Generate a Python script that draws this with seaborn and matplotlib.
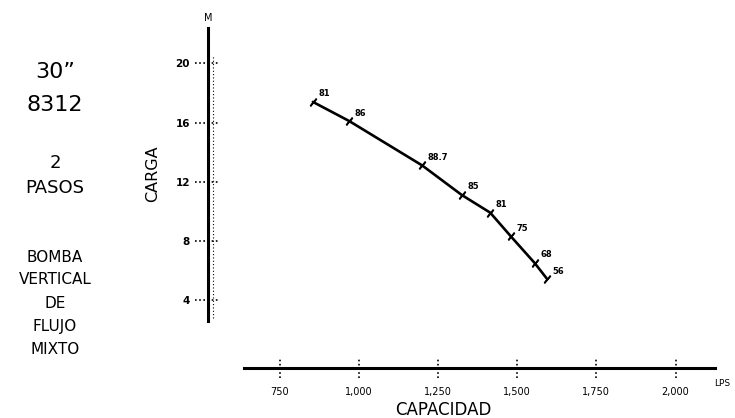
import seaborn as sns
import matplotlib.pyplot as plt

# pump curve
capacidad = [855, 970, 1200, 1325, 1415, 1480, 1555, 1595]   # LPS
carga = [17.4, 16.1, 13.1, 11.1, 9.9, 8.3, 6.5, 5.4]          # M
eficiencia = ["81", "86", "88.7", "85", "81", "75", "68", "56"]

x_ticks = [750, 1000, 1250, 1500, 1750, 2000]
x_labels = ["750", "1,000", "1,250", "1,500", "1,750", "2,000"]
y_ticks = [4, 8, 12, 16, 20]
y_labels = ["4", "8", "12", "16", "20"]

sns.set_theme(style="white")
plt.rcParams["font.family"] = ["DejaVu Sans"]
plt.rcParams["text.color"] = "black"
plt.rcParams["axes.labelcolor"] = "black"
plt.rcParams["xtick.color"] = "black"
plt.rcParams["ytick.color"] = "black"

fig = plt.figure(figsize=(7.35, 4.18), dpi=100)
ax = fig.add_axes([0.283, 0.12, 0.69, 0.813])

sns.lineplot(x=capacidad, y=carga, sort=False, color="black", linewidth=1.9,
             marker=(2, 2, -40), markersize=7, markeredgewidth=1.2,
             markeredgecolor="black", ax=ax)

for q, h, e in zip(capacidad, carga, eficiencia):
    ax.annotate(e, (q, h), xytext=(4, 4), textcoords="offset points",
                fontsize=6, fontweight="bold")

ax.set_xlim(524, 2125)
ax.set_ylim(-0.6, 22.4)

# detached axes like the hand drawn chart
for s in ["top", "right"]:
    ax.spines[s].set_visible(False)
ax.spines["left"].set_bounds(2.6, 22.4)
ax.spines["left"].set_linewidth(2.2)
ax.spines["bottom"].set_bounds(637, 2125)
ax.spines["bottom"].set_linewidth(2.2)
ax.spines["left"].set_color("black")
ax.spines["bottom"].set_color("black")

ax.set_xticks(x_ticks)
ax.set_xticklabels(x_labels, fontsize=7)
ax.set_yticks(y_ticks)
ax.set_yticklabels(y_labels, fontsize=7.5, fontweight="bold")
ax.tick_params(axis="x", length=0, pad=14)
ax.tick_params(axis="y", length=0, pad=13)

# dotted tick marks
ax.vlines(x_ticks, -0.03, 0.03, transform=ax.get_xaxis_transform(),
          colors="black", linestyles=(0, (1, 1.5)), linewidth=1.2, clip_on=False)
ax.hlines(y_ticks, -0.025, 0.02, transform=ax.get_yaxis_transform(),
          colors="black", linestyles=(0, (1, 1.5)), linewidth=1.2, clip_on=False)
ax.vlines(0.01, 2.8, 20.5, transform=ax.get_yaxis_transform(),
          colors="black", linestyles=(0, (1, 2)), linewidth=0.8)

ax.text(0.0, 1.03, "M", transform=ax.transAxes, fontsize=7, ha="center", va="center")
ax.text(1.014, -0.045, "LPS", transform=ax.transAxes, fontsize=6.5, ha="center", va="center")
ax.set_xlabel("CAPACIDAD", fontsize=12, va="center")
ax.xaxis.set_label_coords(0.463, -0.124)
ax.set_ylabel("CARGA", fontsize=11.5, va="center")
ax.yaxis.set_label_coords(-0.11, 0.57)

# left side description
side = [("30\u201d", 72, 16), ("8312", 105, 16), ("2", 163, 13), ("PASOS", 188, 13),
        ("BOMBA", 258, 11), ("VERTICAL", 280, 11), ("DE", 303, 11),
        ("FLUJO", 326, 11), ("MIXTO", 349, 11)]
for t, ypix, fs in side:
    fig.text(55 / 735, 1 - ypix / 418, t, fontsize=fs, ha="center", va="center")

plt.savefig("out.png", dpi=100)
